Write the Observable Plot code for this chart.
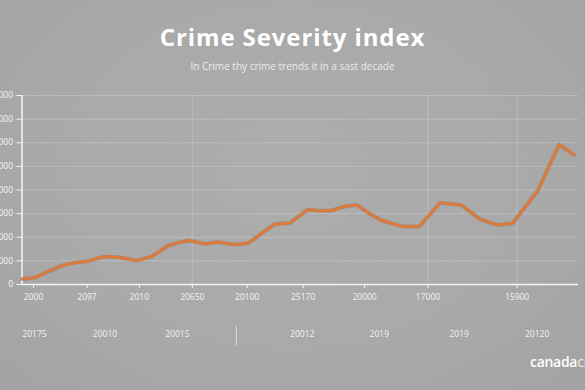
<!DOCTYPE html>
<html>
<head>
<meta charset="utf-8">
<script src="https://cdn.jsdelivr.net/npm/d3@7"></script>
<script src="https://cdn.jsdelivr.net/npm/@observablehq/plot@0.6"></script>
<style>
  html, body { margin: 0; padding: 0; }
  body {
    width: 585px; height: 390px; overflow: hidden; position: relative;
    background: radial-gradient(ellipse at 50% 45%, #adadad 0%, #a9a9a9 60%, #a3a3a3 100%);
    font-family: "Open Sans", sans-serif;
  }
  #title {
    position: absolute; left: 0; width: 585px; top: 25px; text-align: center;
    font: 700 24px/1 "Open Sans", sans-serif; color: #ffffff; letter-spacing: 0.9px;
  }
  #subtitle {
    position: absolute; left: 0; width: 585px; top: 60.5px; text-align: center;
    font: 400 10px/1 "Open Sans", sans-serif; color: #ececec;
  }
  #chart { position: absolute; left: -20px; top: 85px; }
  #chart svg { background: transparent !important; overflow: visible; }
  #logo {
    position: absolute; left: 530px; top: 355px; white-space: nowrap;
    font: 600 14px/1 "Open Sans", sans-serif; color: #ffffff; letter-spacing: -0.3px;
  }
  #logo span { color: #ededed; font-weight: 400; }
</style>
</head>
<body>
<div id="title">Crime Severity index</div>
<div id="subtitle">In Crime thy crime trends it in a sast decade</div>
<div id="chart"></div>
<div id="logo">canada<span>cr</span></div>
<script>
// Series (period position, index value)
const periods = [1999.02, 1999.61, 2000.21, 2000.86, 2001.40, 2001.92, 2002.68, 2003.38, 2004.14, 2004.82,
  2005.57, 2006.11, 2006.50, 2007.24, 2007.78, 2008.54, 2009.17, 2009.75, 2010.34, 2011.03,
  2011.82, 2012.40, 2012.90, 2013.44, 2014.04, 2014.60, 2015.18, 2016.08, 2016.85, 2017.78,
  2018.73, 2019.58, 2020.34, 2021.04, 2022.17, 2023.13, 2023.80];
const values = [230, 300, 560, 820, 930, 980, 1180, 1150, 1010, 1180,
  1650, 1790, 1860, 1720, 1795, 1690, 1750, 2155, 2550, 2600,
  3160, 3125, 3125, 3295, 3370, 3010, 2700, 2460, 2450, 3455,
  3365, 2755, 2520, 2590, 3970, 5925, 5490];

// Axis ticks
const xTickPositions = [1999.52, 2001.92, 2004.27, 2006.65, 2009.12, 2011.63, 2014.39, 2017.24, 2021.24];
const xTickLabels = ["2000", "2097", "2010", "20650", "20100", "25170", "20000", "17000", "15900"];
const xGridPositions = [2006.65, 2017.24, 2021.24];
const yTicks = [0, 1000, 2000, 3000, 4000, 5000, 6000, 7000, 8000];

// Second row of labels
const rowPositions = [1999.56, 2002.73, 2005.98, 2011.59, 2015.05, 2018.64, 2022.14];
const rowLabels = ["20175", "20010", "20015", "20012", "2019", "2019", "20120"];
const separatorPosition = [2008.63];

const series = periods.map((p, i) => ({period: p, value: values[i]}));
const xLabelMap = new Map(xTickPositions.map((p, i) => [p, xTickLabels[i]]));
const rows = rowPositions.map((p, i) => ({period: p, label: rowLabels[i]}));

const chart = Plot.plot({
  width: 605,
  height: 259,
  marginLeft: 41.5,
  marginRight: 7,
  marginTop: 10,
  marginBottom: 60,
  style: {background: "transparent", color: "#f4f4f4", fontFamily: "Open Sans, sans-serif", fontSize: "8.5px", overflow: "visible"},
  x: {domain: [1999, 2024], axis: null},
  y: {domain: [0, 8000], axis: null},
  marks: [
    Plot.ruleY(yTicks.slice(1), {stroke: "#ffffff", strokeOpacity: 0.22, strokeWidth: 1}),
    Plot.ruleX(xGridPositions, {stroke: "#ffffff", strokeOpacity: 0.22, strokeWidth: 1}),
    Plot.axisY(yTicks, {ticks: yTicks, label: null, tickSize: 5, tickPadding: 4, stroke: "#f4f4f4", fill: "#f4f4f4", fontSize: 8.5, tickFormat: d => String(d)}),
    Plot.axisX(xTickPositions, {ticks: xTickPositions, label: null, tickSize: 4, tickPadding: 5, stroke: "#f4f4f4", fill: "#f4f4f4", fontSize: 8.5, tickFormat: d => xLabelMap.get(d)}),
    Plot.ruleX([1999], {stroke: "#f4f4f4", strokeWidth: 1.5}),
    Plot.ruleY([0], {stroke: "#f4f4f4", strokeWidth: 1.5}),
    Plot.line(series, {x: "period", y: "value", stroke: "#9a5a30", strokeWidth: 4, strokeOpacity: 0.35, curve: "linear"}),
    Plot.line(series, {x: "period", y: "value", stroke: "#db7a3c", strokeWidth: 2.8, curve: "linear"}),
    Plot.text(rows, {x: "period", text: "label", frameAnchor: "bottom", dy: 50, lineAnchor: "middle", fill: "#f2f2f2", fontSize: 8.5}),
    Plot.ruleX(separatorPosition, {y1: -1750, y2: -2600, stroke: "#d8d8d8", strokeWidth: 1})
  ]
});
document.getElementById("chart").appendChild(chart);
</script>
</body>
</html>
